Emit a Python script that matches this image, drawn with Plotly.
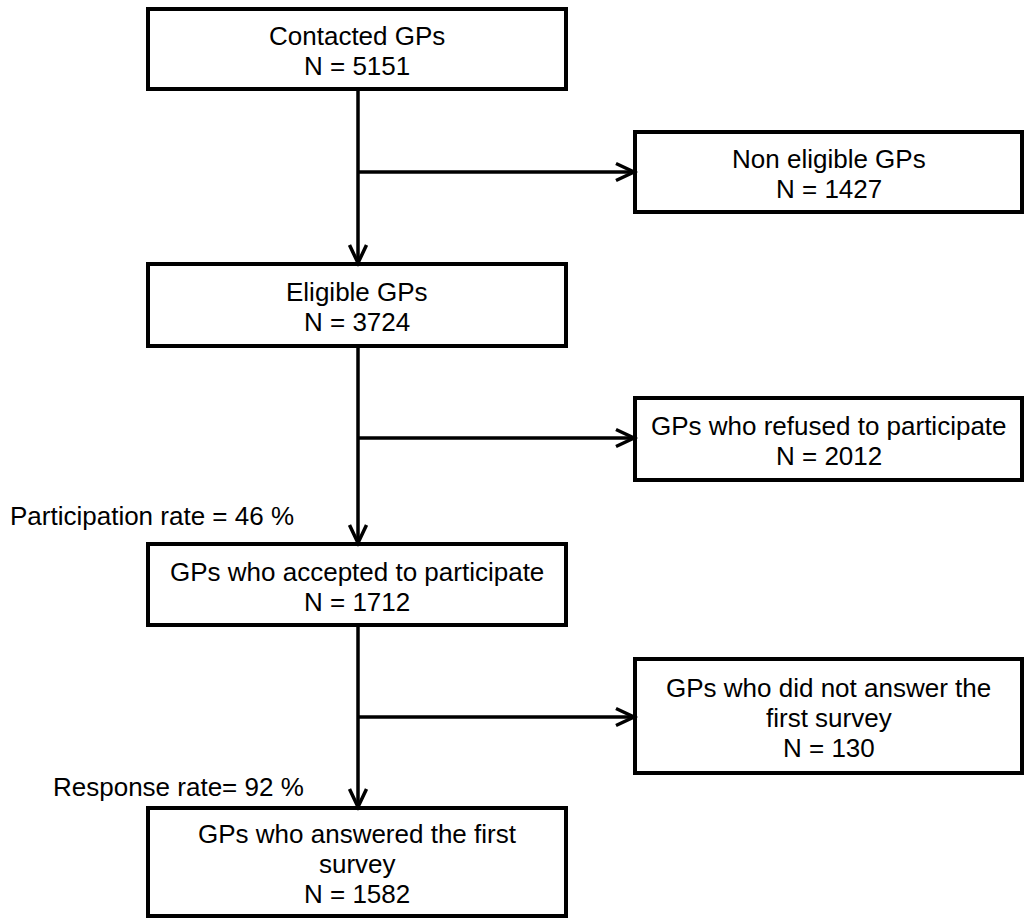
import plotly.graph_objects as go

# ---- data ----
stage_titles = ["Contacted GPs", "Eligible GPs", "GPs who accepted to participate",
                "GPs who answered the first|survey"]
stage_counts = [5151, 3724, 1712, 1582]
excluded_titles = ["Non eligible GPs", "GPs who refused to participate",
                   "GPs who did not answer the|first survey"]
excluded_counts = [1427, 2012, 130]
rate_names = ["Participation rate = ", "Response rate= "]
rate_values = [46, 92]

# ---- layout (pixel geometry) ----
W, H = 1025, 919
left_x = (148, 566)
right_x = (635, 1022)
spine_x = 358
left_y = [(9, 89), (264, 346), (544, 625), (808, 916)]
right_y = [(132, 212), (398, 480), (659, 773)]
branch_y = [172, 438, 717]
rate_pos = [(296, 516), (306, 787)]
line_gap = 30
FONT = dict(family="Liberation Sans, Arial, sans-serif", size=26, color="black")
BOX_W = 4
ARR_W = 3.5
head_len, head_half = 18, 8.5

shapes = []
annotations = []


def add_box(x0, x1, y0, y1, lines):
    shapes.append(dict(type="rect", x0=x0, x1=x1, y0=y0, y1=y1,
                       line=dict(color="black", width=BOX_W), fillcolor="white", layer="above"))
    cy = (y0 + y1) / 2 + 2
    n = len(lines)
    for i, t in enumerate(lines):
        y = cy + (i - (n - 1) / 2) * line_gap
        annotations.append(dict(x=(x0 + x1) / 2, y=y, text=t, showarrow=False,
                                xanchor="center", yanchor="middle", font=FONT))


def vline(x, y0, y1):
    shapes.append(dict(type="line", x0=x, x1=x, y0=y0, y1=y1,
                       line=dict(color="black", width=ARR_W)))


def hline(y, x0, x1):
    shapes.append(dict(type="line", x0=x0, x1=x1, y0=y, y1=y,
                       line=dict(color="black", width=ARR_W)))


def chevron_down(x, ytip):
    shapes.append(dict(type="path",
                       path=f"M {x - head_half},{ytip - head_len} L {x},{ytip} L {x + head_half},{ytip - head_len}",
                       line=dict(color="black", width=ARR_W)))


def chevron_right(xtip, y):
    shapes.append(dict(type="path",
                       path=f"M {xtip - head_len},{y - head_half} L {xtip},{y} L {xtip - head_len},{y + head_half}",
                       line=dict(color="black", width=ARR_W)))


# stage boxes
for (y0, y1), title, n in zip(left_y, stage_titles, stage_counts):
    add_box(left_x[0], left_x[1], y0, y1, title.split("|") + [f"N = {n}"])

# excluded boxes
for (y0, y1), title, n in zip(right_y, excluded_titles, excluded_counts):
    add_box(right_x[0], right_x[1], y0, y1, title.split("|") + [f"N = {n}"])

# spine arrows between stages
for i in range(len(left_y) - 1):
    vline(spine_x, left_y[i][1], left_y[i + 1][0] - 1)
    chevron_down(spine_x, left_y[i + 1][0] - 1)

# branches to excluded boxes
for by in branch_y:
    hline(by, spine_x, right_x[0] - 1)
    chevron_right(right_x[0] - 1, by)

# rate labels
for (x, y), name, v in zip(rate_pos, rate_names, rate_values):
    annotations.append(dict(x=x, y=y, text=f"{name}{v} %", showarrow=False,
                            xanchor="right", yanchor="middle", font=FONT))

fig = go.Figure()
fig.update_layout(
    width=W, height=H,
    margin=dict(l=0, r=0, t=0, b=0),
    paper_bgcolor="white", plot_bgcolor="white",
    xaxis=dict(range=[0, W], visible=False, fixedrange=True),
    yaxis=dict(range=[H, 0], visible=False, fixedrange=True),
    shapes=shapes, annotations=annotations, showlegend=False,
)
fig.write_html(
    "out.html",
    config=dict(displayModeBar=False),
    post_script="document.body.style.margin='0';document.body.style.overflow='hidden';",
)
